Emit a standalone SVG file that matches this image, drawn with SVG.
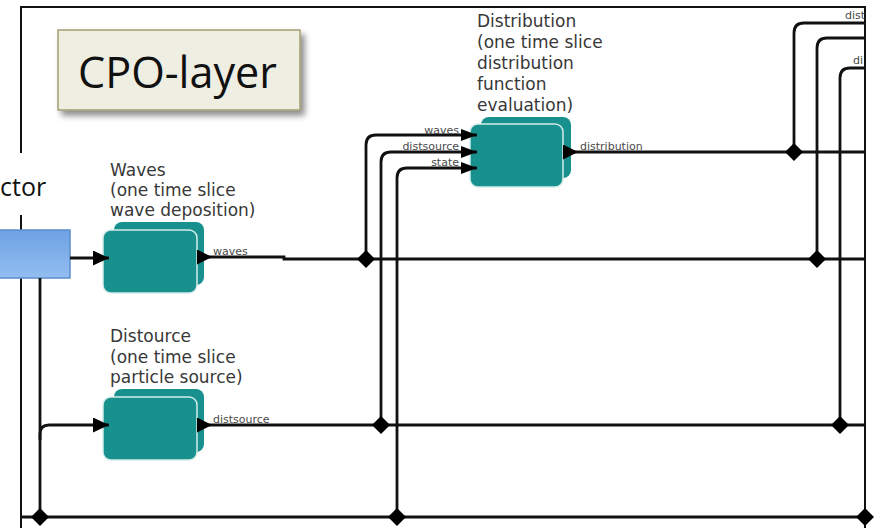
<svg xmlns="http://www.w3.org/2000/svg" width="874" height="528" viewBox="0 0 874 528">
  <style>
    .frame { fill: none; stroke: #111; stroke-width: 2; }
    .wire { fill: none; stroke: #111; stroke-width: 2.8; }
    .head, .dia { fill: #000; }
    .actor { fill: url(#actorFill); stroke: #5b8dcc; stroke-width: 1.5; }
    .back { fill: #18918e; }
    .front { fill: #18918e; stroke: #d4ecea; stroke-width: 1.5; }
    .title { font-family: "DejaVu Sans", Verdana, sans-serif; font-size: 17px; fill: #383838; }
    .port { font-family: "DejaVu Sans", Verdana, sans-serif; font-size: 11px; fill: #4a4a4a; }
    .big { font-family: "Open Sans", "Liberation Sans", sans-serif; fill: #111; }
  </style>
  <defs>
    <linearGradient id="actorFill" x1="0" y1="0" x2="0" y2="1">
      <stop offset="0" stop-color="#6ea2e4"/>
      <stop offset="1" stop-color="#92bdf0"/>
    </linearGradient>
    <filter id="shadow" x="-10%" y="-10%" width="125%" height="140%">
      <feGaussianBlur in="SourceAlpha" stdDeviation="3"/>
      <feOffset dx="4" dy="5" result="b"/>
      <feComponentTransfer><feFuncA type="linear" slope="0.45"/></feComponentTransfer>
      <feMerge><feMergeNode/><feMergeNode in="SourceGraphic"/></feMerge>
    </filter>
    <marker id="arrowIn" viewBox="0 0 16 15" refX="16" refY="7.5" markerWidth="16" markerHeight="15" markerUnits="userSpaceOnUse" orient="auto">
      <path class="head" d="M0,0 L16,7.5 L0,15 z"/>
    </marker>
    <marker id="arrowInSmall" viewBox="0 0 16 12" refX="16" refY="6" markerWidth="16" markerHeight="12" markerUnits="userSpaceOnUse" orient="auto">
      <path class="head" d="M0,0 L16,6 L0,12 z"/>
    </marker>
    <marker id="arrowOut" viewBox="0 0 15 15" refX="0" refY="7.5" markerWidth="15" markerHeight="15" markerUnits="userSpaceOnUse" orient="auto">
      <path class="head" d="M0,0 L15,7.5 L0,15 z"/>
    </marker>
    <path id="dia" class="dia" d="M0,-9 L9,0 L0,9 L-9,0 z"/>
  </defs>

  <rect width="874" height="528" fill="#fff"/>

  <!-- outer frame of the layer -->
  <g id="frame">
    <path class="frame" d="M21,153 V7 H865 V528"/>
    <path class="frame" d="M21,215 V528"/>
  </g>

  <!-- layer caption -->
  <g id="cpo-layer">
    <rect x="58" y="30" width="242" height="80" fill="#eeeee3" stroke="#a29e72" stroke-width="1.5" filter="url(#shadow)"/>
    <text class="big" x="78" y="88" font-size="43" textLength="199" lengthAdjust="spacingAndGlyphs">CPO-layer</text>
  </g>

  <!-- actor feeding the layer -->
  <g id="actor">
    <text class="big" x="0" y="196" font-size="25">ctor</text>
    <rect class="actor" x="-2" y="230" width="72" height="48"/>
  </g>

  <!-- component nodes -->
  <g id="waves">
    <text class="title" x="110" y="176">Waves</text>
    <text class="title" x="110" y="196">(one time slice</text>
    <text class="title" x="110" y="216">wave deposition)</text>
    <rect class="back" x="114" y="222" width="90" height="63" rx="8"/>
    <rect class="front" x="103" y="230" width="94" height="63" rx="8"/>
  </g>

  <g id="distource">
    <text class="title" x="110" y="342">Distource</text>
    <text class="title" x="110" y="363">(one time slice</text>
    <text class="title" x="110" y="383">particle source)</text>
    <rect class="back" x="114" y="389" width="90" height="63" rx="8"/>
    <rect class="front" x="103" y="397" width="94" height="63" rx="8"/>
  </g>

  <g id="distribution">
    <text class="title" x="477" y="27">Distribution</text>
    <text class="title" x="477" y="48">(one time slice</text>
    <text class="title" x="477" y="69">distribution</text>
    <text class="title" x="477" y="90">function</text>
    <text class="title" x="477" y="111">evaluation)</text>
    <rect class="back" x="481" y="117" width="90" height="61" rx="8"/>
    <rect class="front" x="470" y="124" width="93" height="63" rx="8"/>
  </g>

  <!-- connectors -->
  <g id="connectors">
    <!-- actor outputs -->
    <path class="wire" d="M70,258 H109" marker-end="url(#arrowIn)"/>
    <path class="wire" d="M40,278 V517"/>
    <path class="wire" d="M40,440 V434 Q40,425 49,425 H109" marker-end="url(#arrowIn)"/>

    <!-- waves bus -->
    <path class="wire" d="M197,257 H284 V259 H865" marker-start="url(#arrowOut)"/>
    <path class="wire" d="M366,259 V145 Q366,135 376,135 H477" marker-end="url(#arrowInSmall)"/>
    <path class="wire" d="M817,259 V48 Q817,38 827,38 H865"/>

    <!-- distsource bus -->
    <path class="wire" d="M197,425 H865" marker-start="url(#arrowOut)"/>
    <path class="wire" d="M381,425 V162 Q381,152 391,152 H477" marker-end="url(#arrowInSmall)"/>
    <path class="wire" d="M840,425 V78 Q840,68 850,68 H865"/>

    <!-- state bus -->
    <path class="wire" d="M21,517 H865"/>
    <path class="wire" d="M397,517 V178 Q397,168 407,168 H477" marker-end="url(#arrowInSmall)"/>

    <!-- distribution bus -->
    <path class="wire" d="M563,152 H865" marker-start="url(#arrowOut)"/>
    <path class="wire" d="M794,152 V33 Q794,23 804,23 H865"/>

    <!-- branch points -->
    <use href="#dia" x="366" y="259"/>
    <use href="#dia" x="817" y="259"/>
    <use href="#dia" x="381" y="425"/>
    <use href="#dia" x="840" y="425"/>
    <use href="#dia" x="40" y="517"/>
    <use href="#dia" x="397" y="517"/>
    <use href="#dia" x="865" y="517"/>
    <use href="#dia" x="794" y="152"/>

    <!-- port labels -->
    <text class="port" x="213" y="255">waves</text>
    <text class="port" x="213" y="423">distsource</text>
    <text class="port" x="580" y="150">distribution</text>
    <text class="port" x="459" y="134" text-anchor="end">waves</text>
    <text class="port" x="459" y="150" text-anchor="end">distsource</text>
    <text class="port" x="459" y="166" text-anchor="end">state</text>
    <text class="port" x="845" y="19">dist</text>
    <text class="port" x="853" y="64">di</text>
  </g>
</svg>
